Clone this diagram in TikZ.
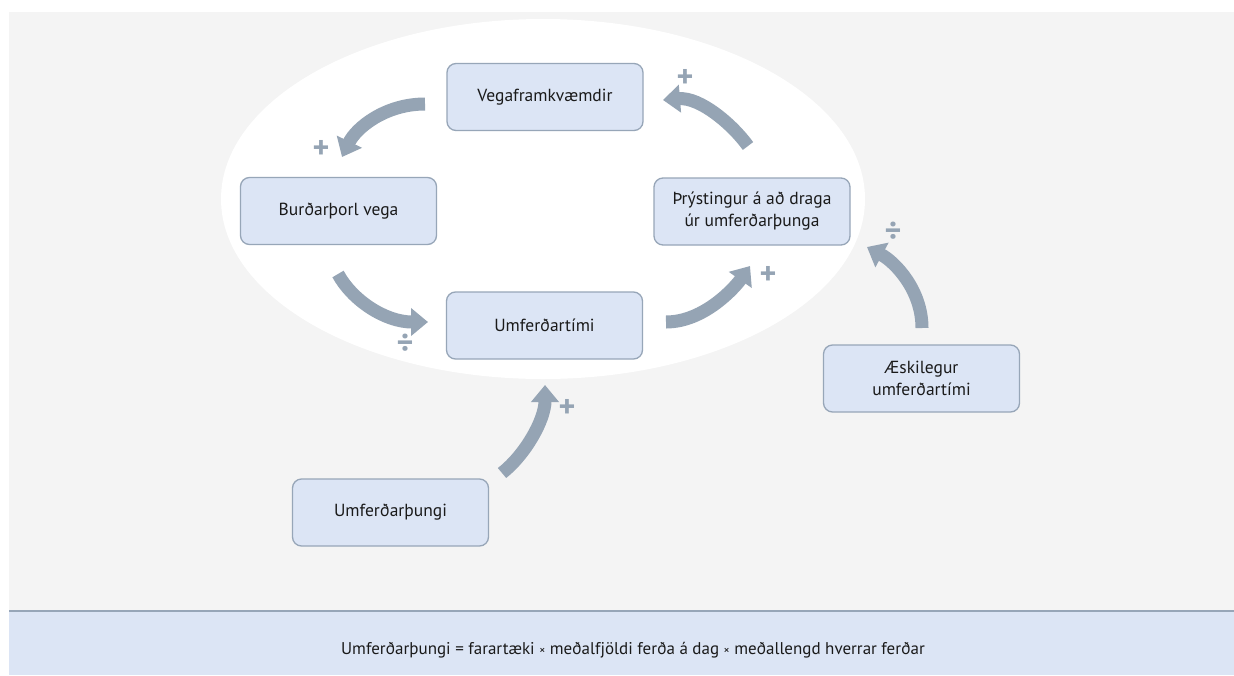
\documentclass[tikz,border=0pt]{standalone}
\usepackage{fontspec}
\setmainfont{PT Sans}
\usepackage{tikz}
\usetikzlibrary{arrows.meta}
\usepackage{xcolor}
\definecolor{bggray}{HTML}{F4F4F4}
\definecolor{boxfill}{HTML}{DCE5F5}
\definecolor{boxedge}{HTML}{97A6B8}
\definecolor{arrowc}{HTML}{95A4B4}
\definecolor{txt}{HTML}{1A1A1A}

\begin{document}
\begin{tikzpicture}[x=1pt, y=-1pt,
  box/.style={draw=boxedge, fill=boxfill, rounded corners=9pt, line width=1.3pt,
    minimum width=196pt, minimum height=67pt, align=center, text=txt,
    font=\fontsize{17.5}{22}\selectfont},
  flow/.style={draw=arrowc, line width=13pt, -{Triangle[length=17pt, width=27pt]}},
  sign/.style={text=arrowc, font=\fontsize{32}{32}\selectfont\bfseries}]
  \useasboundingbox (0,0) rectangle (1234,675);
  \fill[white] (0,0) rectangle (1234,675);
  \fill[bggray] (9,12) rectangle (1234,610);
  \fill[boxfill] (9,611) rectangle (1234,675);
  \draw[boxedge, line width=2pt] (9,611) -- (1234,611);
  \fill[white] (543,199) ellipse [x radius=322, y radius=180];

  \node[box] (veg) at (545,97) {Vegaframkvæmdir};
  \node[box] (burd) at (338.5,211) {Burðarþorl vega};
  \node[box] (thryst) at (752,211.5) {Þrýstingur á að draga\\úr umferðarþunga};
  \node[box] (umftimi) at (544.5,325.5) {Umferðartími};
  \node[box] (umfthungi) at (390.5,512.5) {Umferðarþungi};
  \node[box] (askil) at (921.5,378.5) {Æskilegur\\umferðartími};

  \coordinate (vegout) at (425,104);
  \coordinate (burdin) at (342,157);
  \coordinate (burdout) at (338,274);
  \coordinate (timein) at (428,322);
  \coordinate (timeout) at (666,322);
  \coordinate (thrin) at (750,266);
  \coordinate (throut) at (748,146);
  \coordinate (vegin) at (663,100);
  \coordinate (thungout) at (502,473);
  \coordinate (timeinb) at (545,385);
  \coordinate (askout) at (922,328);
  \coordinate (thrinb) at (867,247);

  \draw[flow] (vegout) .. controls (385,104) and (356,128) .. (burdin);
  \draw[flow] (burdout) .. controls (352,300) and (385,322) .. (timein);
  \draw[flow] (timeout) .. controls (705,322) and (736,286) .. (thrin);
  \draw[flow] (throut) .. controls (732,124) and (700,97) .. (vegin);
  \draw[flow] (thungout) .. controls (525,455) and (545,420) .. (timeinb);
  \draw[flow] (askout) .. controls (922,290) and (895,262) .. (thrinb);

  \node[sign] (s1) at (321,149) {+};
  \node[sign] (s2) at (405,344) {÷};
  \node[sign] (s3) at (768,275) {+};
  \node[sign] (s4) at (685,78) {+};
  \node[sign] (s5) at (567,408) {+};
  \node[sign] (s6) at (893,232) {÷};

  \node[text=txt, font=\fontsize{17}{20}\selectfont] (formula) at (633,650)
    {Umferðarþungi = farartæki {\fontsize{12}{14}\selectfont×} meðalfjöldi ferða á dag {\fontsize{12}{14}\selectfont×} meðallengd hverrar ferðar};
\end{tikzpicture}
\end{document}
